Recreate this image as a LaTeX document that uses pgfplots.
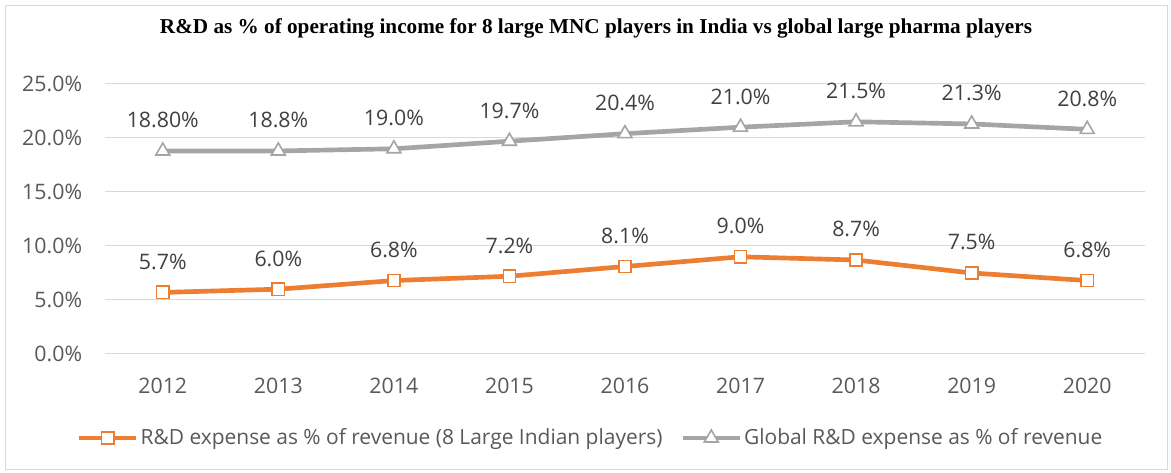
\documentclass[border=0pt]{standalone}
\usepackage{pgfplots}
\pgfplotsset{compat=1.18}
\usepackage{fontspec}
\setmainfont{Open Sans}
\newfontfamily\titlefont{Liberation Serif}
\definecolor{orng}{HTML}{ED7D31}
\definecolor{gry}{HTML}{A5A5A5}
\definecolor{txt}{HTML}{595959}
\definecolor{lbl}{HTML}{404040}
\definecolor{gridc}{HTML}{D9D9D9}
\begin{document}
\begin{tikzpicture}[x=1pt,y=1pt]
\useasboundingbox (0,0) rectangle (878.25,354.75);
\draw[gridc, line width=0.75pt] (3.75,2.25) rectangle (875.25,350.25);
\node[font=\titlefont\bfseries\fontsize{15.9}{18}\selectfont, text=black] at (447,333.75) {R\&D as \% of operating income for 8 large MNC players in India vs global large pharma players};
\begin{axis}[
  at={(78.75pt,89.25pt)}, anchor=south west,
  width=780pt, height=202.5pt, scale only axis,
  xmin=-0.5, xmax=8.5, ymin=0, ymax=25,
  xtick={0,...,8}, xticklabels={2012,2013,2014,2015,2016,2017,2018,2019,2020},
  ytick={0,5,10,15,20,25},
  yticklabel={\pgfmathprintnumber[fixed,fixed zerofill,precision=1]{\tick}\%},
  /pgf/number format/assume math mode=true,
  axis line style={draw=none}, major tick length=0pt,
  ymajorgrids, grid style={gridc, line width=0.75pt},
  tick label style={font=\fontsize{16}{18}\selectfont, text=txt, inner sep=0pt},
  yticklabel style={anchor=east, xshift=-17pt},
  xticklabel style={anchor=center, yshift=-24pt},
  clip=false,
  point meta=explicit symbolic,
  nodes near coords={\pgfplotspointmeta\%},
  every node near coord/.append style={font=\fontsize{16}{18}\selectfont, text=lbl, anchor=center, yshift=23pt, inner sep=0pt},
  legend columns=2,
  legend style={draw=none, at={(axis description cs:0.467,-0.311)}, anchor=center, font=\fontsize{15.7}{18}\selectfont, text=txt, inner sep=0pt, /tikz/every even column/.append style={column sep=12pt}, nodes={inner sep=1.5pt}},
  legend image code/.code={\draw[mark repeat=2,mark phase=2,#1] plot coordinates {(0cm,0cm) (0.75cm,0cm) (1.5cm,0cm)};},
]
\addplot[orng, line width=3.5pt, mark=square*, mark size=4.6pt, mark options={fill=white, draw=orng, line width=1.2pt}]
  table[x=x, y=y, meta=m] {
x y m
0 5.7 5.7
1 6.0 6.0
2 6.8 6.8
3 7.2 7.2
4 8.1 8.1
5 9.0 9.0
6 8.7 8.7
7 7.5 7.5
8 6.8 6.8
};
\addlegendentry{R\&D expense as \% of revenue (8 Large Indian players)}
\addplot[gry, line width=3.5pt, mark=triangle*, mark size=6pt, mark options={fill=white, draw=gry, line width=1.2pt}]
  table[x=x, y=y, meta=m] {
x y m
0 18.8 18.80
1 18.8 18.8
2 19.0 19.0
3 19.7 19.7
4 20.4 20.4
5 21.0 21.0
6 21.5 21.5
7 21.3 21.3
8 20.8 20.8
};
\addlegendentry{Global R\&D expense as \% of revenue}
\end{axis}
\end{tikzpicture}
\end{document}
